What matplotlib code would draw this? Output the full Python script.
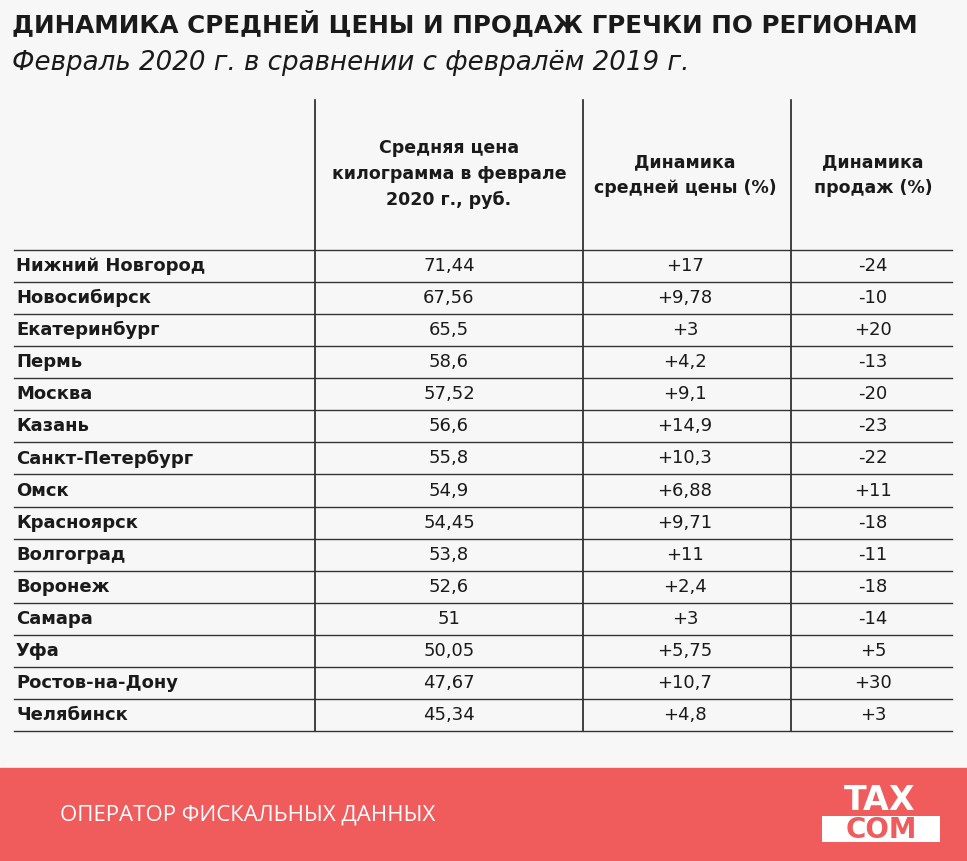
import matplotlib
matplotlib.use("Agg")
import matplotlib.pyplot as plt
from matplotlib.patches import Rectangle

cities = ["Нижний Новгород","Новосибирск","Екатеринбург","Пермь","Москва","Казань",
          "Санкт-Петербург","Омск","Красноярск","Волгоград","Воронеж","Самара","Уфа",
          "Ростов-на-Дону","Челябинск"]
prices = ["71,44","67,56","65,5","58,6","57,52","56,6","55,8","54,9","54,45","53,8",
          "52,6","51","50,05","47,67","45,34"]
price_dyn = ["+17","+9,78","+3","+4,2","+9,1","+14,9","+10,3","+6,88","+9,71","+11",
             "+2,4","+3","+5,75","+10,7","+4,8"]
sales_dyn = ["-24","-10","+20","-13","-20","-23","-22","+11","-18","-11","-18","-14",
             "+5","+30","+3"]
headers = ["Средняя цена\nкилограмма в феврале\n2020 г., руб.",
           "Динамика\nсредней цены (%)", "Динамика\nпродаж (%)"]

W, H = 967, 861
fig = plt.figure(figsize=(W/100, H/100), dpi=100)
ax = fig.add_axes([0, 0, 1, 1])
ax.set_xlim(0, W); ax.set_ylim(H, 0); ax.axis("off")
fig.patch.set_facecolor("#f7f7f7")
F = "DejaVu Sans"

ax.text(12, 24, "ДИНАМИКА СРЕДНЕЙ ЦЕНЫ И ПРОДАЖ ГРЕЧКИ ПО РЕГИОНАМ", fontsize=17.7,
        fontweight="bold", color="#1a1a1a", va="center", ha="left", family=F)
ax.text(12, 63, "Февраль 2020 г. в сравнении с февралём 2019 г.", fontsize=18.8,
        fontstyle="italic", color="#1a1a1a", va="center", ha="left", family=F)

for x in [315, 583, 791]:
    ax.plot([x, x], [100, 731], color="#222", lw=1.2)
col_x = [449, 685, 873]
hy = [174, 175, 175]
for cx, h, y in zip(col_x, headers, hy):
    ax.text(cx, y, h, ha="center", va="center", fontsize=12.5, fontweight="bold",
            linespacing=1.55, color="#1a1a1a", family=F)

top, step = 250, 32.07
for i in range(len(cities) + 1):
    y = top + i * step
    ax.plot([14, 952], [y, y], color="#333", lw=1.0)
for i, c in enumerate(cities):
    y = top + (i + 0.5) * step
    ax.text(16, y, c, ha="left", va="center", fontsize=13, fontweight="bold",
            color="#1a1a1a", family=F)
    for cx, v in zip(col_x, [prices[i], price_dyn[i], sales_dyn[i]]):
        ax.text(cx, y, v, ha="center", va="center", fontsize=13, color="#1a1a1a", family=F)

ax.add_patch(Rectangle((0, 768), W, H - 768, color="#f05b5c", zorder=0))
ax.text(60, 815, "ОПЕРАТОР ФИСКАЛЬНЫХ ДАННЫХ", fontsize=16, color="white",
        va="center", ha="left", family="Open Sans")
ax.text(880, 800, "TAX", fontsize=24, fontweight="black", color="white",
        ha="center", va="center", family=F)
ax.add_patch(Rectangle((822, 816), 118, 26, facecolor="white", zorder=2))
ax.text(881, 830, "COM", fontsize=20, fontweight="bold", color="#f05b5c",
        ha="center", va="center", family=F, zorder=3)
fig.savefig("out.png", dpi=100, facecolor=fig.get_facecolor())
